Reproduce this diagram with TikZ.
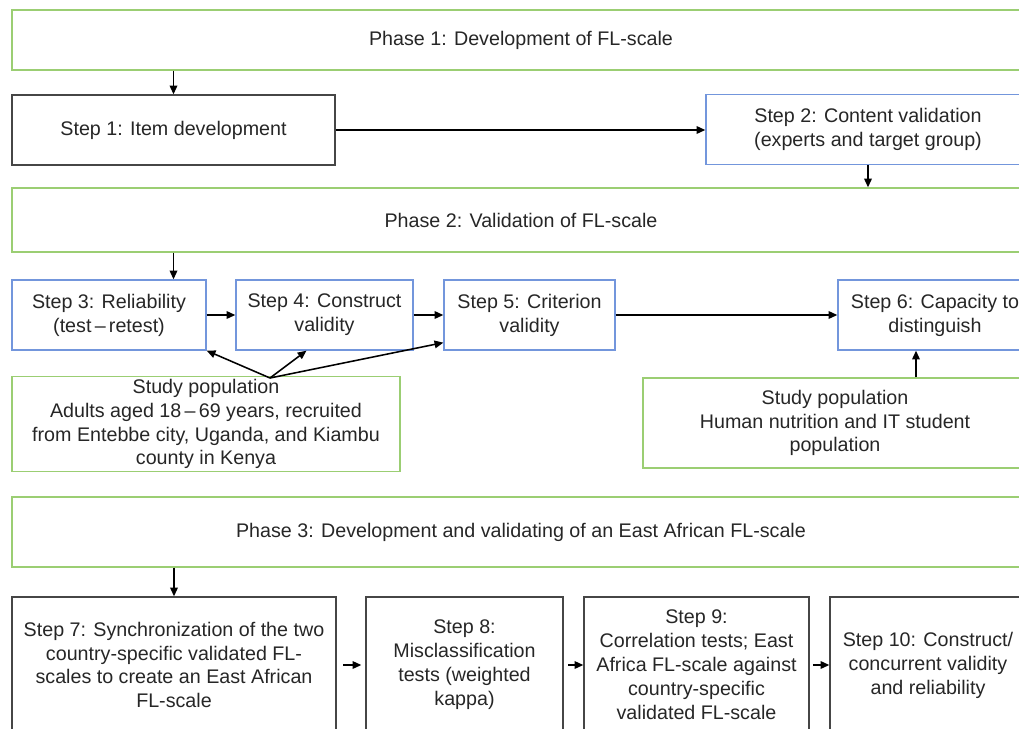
\documentclass[tikz,border=0pt]{standalone}
\usepackage{fontspec}
\setmainfont{Liberation Sans}
\usetikzlibrary{arrows.meta,positioning,calc}
\definecolor{phasegreen}{RGB}{155,206,115}
\definecolor{stepblue}{RGB}{115,150,220}
\definecolor{stepgray}{RGB}{70,70,70}
\tikzset{
  base/.style={rectangle, inner sep=2pt, align=center, text=black!85,
    font=\fontsize{14}{17}\selectfont, line width=0.9pt},
  phase/.style={base, draw=phasegreen, minimum width=25.45cm},
  graybox/.style={base, draw=stepgray},
  bluebox/.style={base, draw=stepblue, minimum height=1.75cm},
  popbox/.style={base, draw=phasegreen, minimum height=2.25cm},
  arrow/.style={-{Triangle[length=2.2mm, width=1.9mm]}, line width=1.1pt},
}

\begin{document}
\begin{tikzpicture}[x=0.025cm,y=-0.025cm]
  \clip (0,0) rectangle (1019,729);
  % phase 1
  \node[phase, minimum height=1.5cm] (ph1) at (521,40) {Phase 1: Development of FL-scale};
  \node[graybox, minimum width=8.075cm, minimum height=1.75cm] (st1) at (173.5,130) {Step 1: Item development};
  \node[bluebox, minimum width=8.1cm] (st2) at (868,129.5) {Step 2: Content validation\\(experts and target group)};
  % phase 2
  \node[phase, minimum height=1.6cm] (ph2) at (521,220) {Phase 2: Validation of FL-scale};
  \node[bluebox, minimum width=4.85cm] (st3) at (109,315) {Step 3: Reliability\\(test\,–\,retest)};
  \node[bluebox, minimum width=4.425cm] (st4) at (324.5,315) {Step 4: Construct\\validity};
  \node[bluebox, minimum width=4.275cm] (st5) at (529.5,315) {Step 5: Criterion\\validity};
  \node[bluebox, minimum width=4.85cm] (st6) at (935,315) {Step 6: Capacity to\\distinguish};
  \node[popbox, minimum width=9.7cm] (pop1) at (206,424) {Study population\\Adults aged 18\,–\,69 years, recruited\\from Entebbe city, Uganda, and Kiambu\\county in Kenya};
  \node[popbox, minimum width=9.6cm] (pop2) at (835,423) {Study population\\Human nutrition and IT student\\population};
  % phase 3
  \node[phase, minimum height=1.75cm] (ph3) at (521,532) {Phase 3: Development and validating of an East African FL-scale};
  \node[graybox, minimum width=8.1cm, minimum height=3.4cm] (st7) at (174,665) {Step 7: Synchronization of the two\\country-specific validated FL-\\scales to create an East African\\FL-scale};
  \node[graybox, minimum width=4.925cm, minimum height=3.4cm] (st8) at (464.5,665) {Step 8:\\Misclassification\\tests (weighted\\kappa)};
  \node[graybox, minimum width=5.625cm, minimum height=3.4cm] (st9) at (696.5,665) {Step 9:\\Correlation tests; East\\Africa FL-scale against\\country-specific\\validated FL-scale};
  \node[graybox, minimum width=4.9cm, minimum height=3.4cm] (st10) at (928,665) {Step 10: Construct/\\concurrent validity\\and reliability};

  \coordinate (spout) at (270,378);
  \coordinate (st6in) at ([xshift=-0.475cm]st6.south);

  \draw[arrow] (ph1.south -| st1) -- (st1);
  \draw[arrow] (st1.east) -- (st1.east -| st2.west);
  \draw[arrow] (st2.south) -- (st2.south |- ph2.north);
  \draw[arrow] (ph2.south -| st1) -- (st3.north -| st1);
  \draw[arrow] (st3) -- (st4);
  \draw[arrow] (st4) -- (st5);
  \draw[arrow] (st5) -- (st6);
  \draw[arrow] (spout) -- (st3.south east);
  \draw[arrow] (spout) -- ([xshift=-0.45cm]st4.south);
  \draw[arrow] (spout) -- ([yshift=0.2cm]st5.south west);
  \draw[arrow] (pop2.north -| st6in) -- (st6in);
  \draw[arrow] (ph3.south -| st7) -- (st7);
  \draw[arrow, shorten <=0.17cm, shorten >=0.1cm] (st7) -- (st8);
  \draw[arrow, shorten <=0.12cm] (st8) -- (st9);
  \draw[arrow, shorten <=0.08cm] (st9) -- (st10);
\end{tikzpicture}
\end{document}
